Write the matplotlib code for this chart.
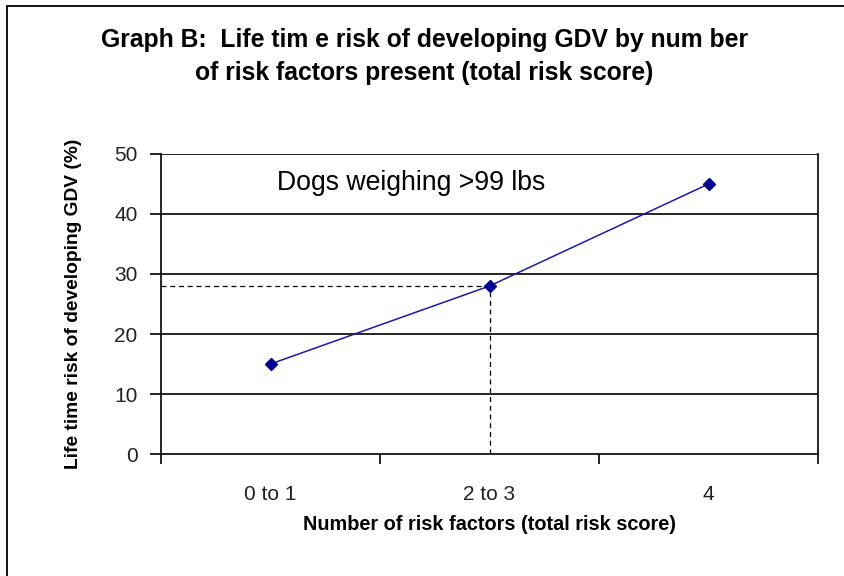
import matplotlib
matplotlib.use("Agg")
import matplotlib.pyplot as plt
from matplotlib.patches import Rectangle

categories = ["0 to 1", "2 to 3", "4"]
risk = [15, 28, 45]
yticks = [0, 10, 20, 30, 40, 50]
highlight_idx = 1
highlight_val = 28

plt.rcParams['font.family'] = ['Liberation Sans', 'DejaVu Sans']

fig = plt.figure(figsize=(8.44, 5.76), dpi=100)
fig.patches.append(Rectangle((7/844, -0.1), 1.2, 1 - 6/576 + 0.1, transform=fig.transFigure,
                             fill=False, edgecolor='black', linewidth=1.3))

ax = fig.add_axes([161/844, 1 - 454/576, (818-161)/844, 300/576])
x = list(range(len(categories)))
ax.set_xlim(-0.5, len(categories) - 0.5)
ax.set_ylim(0, 50)

for v in yticks[1:]:
    ax.axhline(v, color='black', linewidth=1.2, zorder=1)

ax.plot([-0.5, highlight_idx], [highlight_val, highlight_val], color='black',
        linestyle=(0, (4, 3)), linewidth=0.9, zorder=2)
ax.plot([highlight_idx, highlight_idx], [0, highlight_val], color='black',
        linestyle=(0, (4, 3)), linewidth=0.9, zorder=2)

ax.plot(x, risk, color='#1a1aa8', linewidth=1.1, marker='D', markersize=6.5,
        markerfacecolor='#000090', markeredgecolor='#000090', zorder=3)

ax.text(0.03, 45.2, "Dogs weighing >99 lbs", fontsize=19.2, va='center', ha='left')

ax.set_yticks(yticks)
ax.set_yticklabels([str(v) for v in yticks], fontsize=15, color='#222222')
ax.set_xticks([-0.5, 0.5, 1.5, 2.5])
ax.set_xticklabels([])
ax.set_xticks(x, minor=True)
ax.set_xticklabels(categories, minor=True, fontsize=15, color='#222222')
ax.tick_params(axis='x', which='major', direction='out', length=7, width=1.2)
ax.tick_params(axis='x', which='minor', length=0, pad=22)
ax.tick_params(axis='y', direction='out', length=8, width=1.2, pad=9)

for s in ['left', 'bottom', 'right']:
    ax.spines[s].set_linewidth(1.2)
ax.spines['top'].set_visible(False)

ax.set_xlabel("Number of risk factors (total risk score)", fontsize=14.3,
              fontweight='bold', labelpad=8)
ax.set_ylabel("Life time risk of developing GDV (%)", fontsize=13.8,
              fontweight='bold', labelpad=23)

fig.text(0.503, 1 - 40/576, "Graph B:  Life tim e risk of developing GDV by num ber",
         fontsize=17.8, fontweight='bold', ha='center', va='center')
fig.text(0.503, 1 - 73/576, "of risk factors present (total risk score)",
         fontsize=17.8, fontweight='bold', ha='center', va='center')

fig.savefig("out.png", dpi=100)
